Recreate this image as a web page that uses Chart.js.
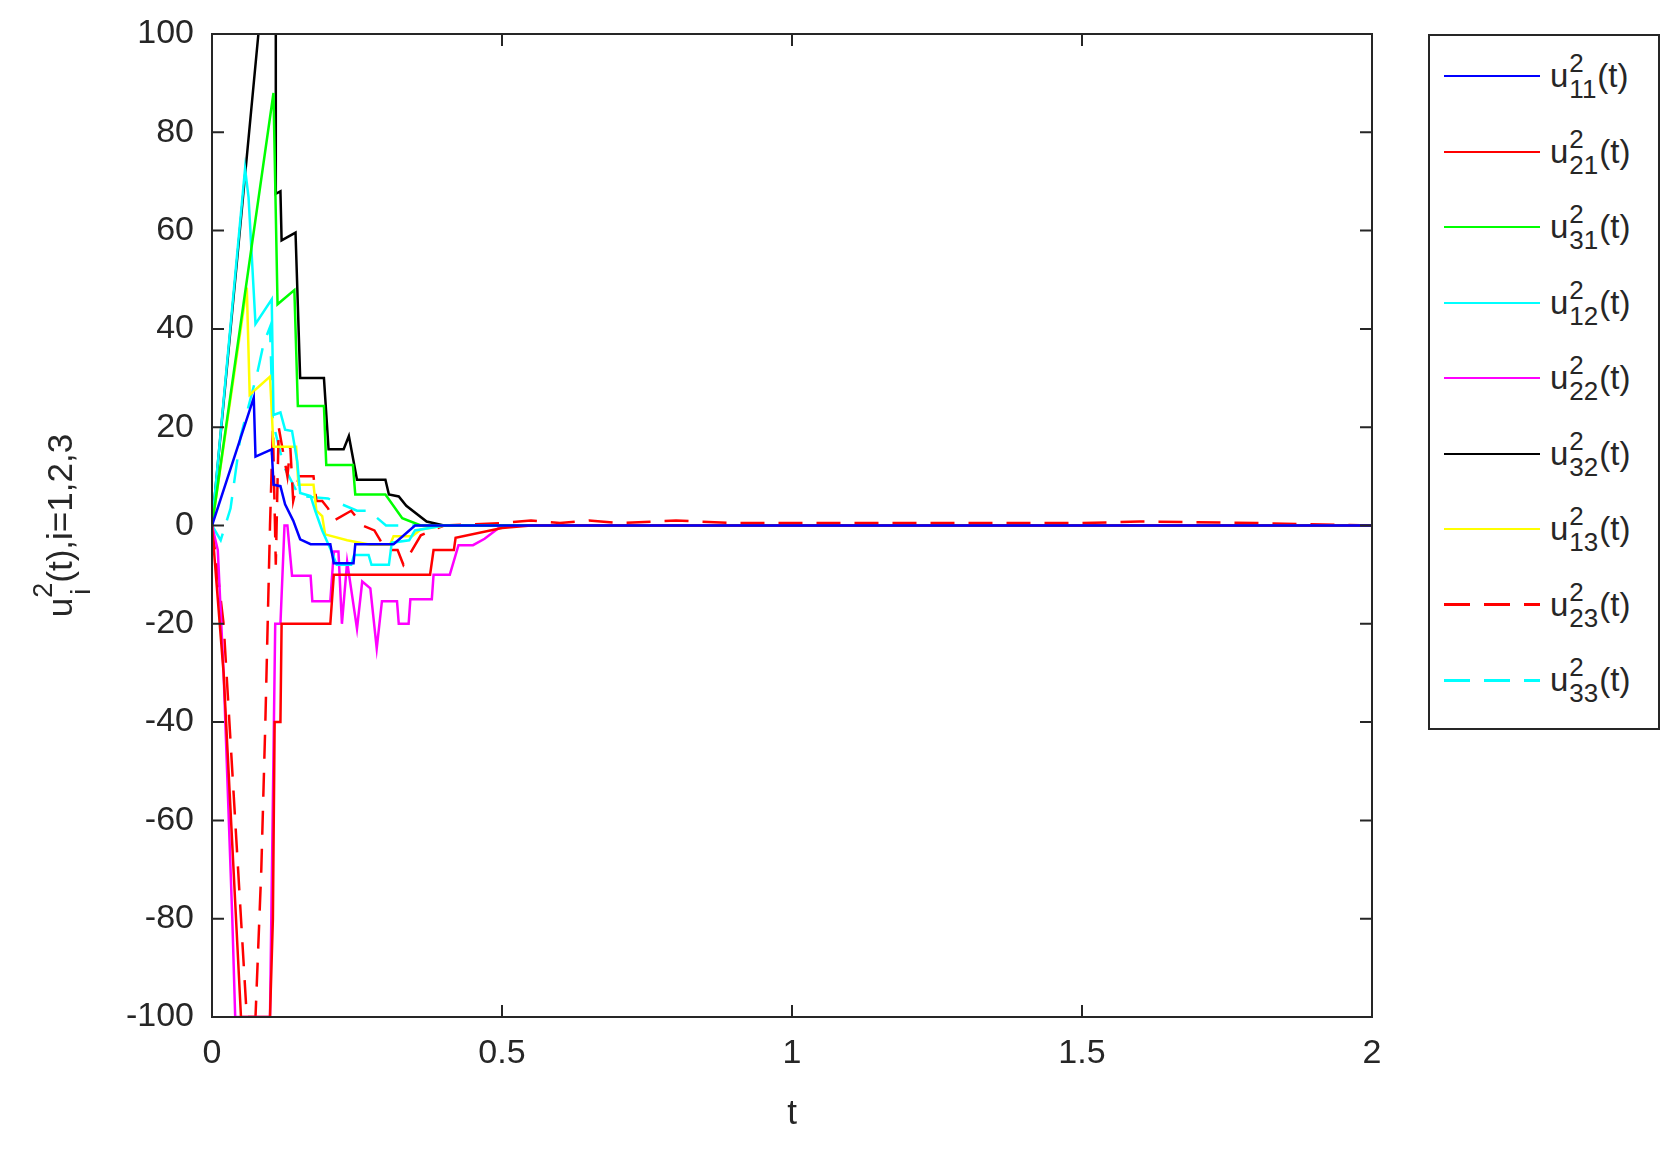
<!DOCTYPE html>
<html>
<head>
<meta charset="utf-8">
<script src="https://cdn.jsdelivr.net/npm/chart.js@4"></script>
<style>
  body { margin: 0; background: #fff; }
  #wrap { position: relative; width: 1680px; height: 1157px; }
  #legend {
    position: absolute; left: 1428px; top: 34px; width: 232px; height: 696px;
    border: 2px solid #262626; box-sizing: border-box; background: #fff;
    font-family: Arial, "Liberation Sans", sans-serif; font-size: 33px; color: #262626;
  }
  .item { position: absolute; left: 14px; height: 64px; display: flex; align-items: center; }
  .swatch { width: 96px; height: 0; margin-right: 10px; }
  .lbl { display: inline-flex; align-items: center; }
  .ss { display: inline-flex; flex-direction: column; line-height: 26px; font-size: 26px; margin: 0 1px; }
</style>
</head>
<body>
<div id="wrap">
  <canvas id="chart" width="1680" height="1157"></canvas>
  <div id="legend"></div>
</div>
<script>
// time / value pairs
const tU11 = [0, 0.072, 0.075, 0.103, 0.106, 0.118, 0.126, 0.14, 0.152, 0.17, 0.204, 0.21, 0.244, 0.247, 0.313, 0.35, 2];
const vU11 = [0, 26, 14, 15.5, 8.3, 8, 4.3, 1, -2.8, -3.8, -3.8, -7.7, -7.7, -3.8, -3.8, 0, 0];

const tU21 = [0, 0.02, 0.05, 0.1, 0.105, 0.108, 0.118, 0.12, 0.204, 0.21, 0.376, 0.382, 0.417, 0.42, 0.5, 0.55, 2];
const vU21 = [0, -30, -100, -100, -80, -40, -40, -20, -20, -10, -10, -5, -5, -2.5, -0.5, 0, 0];

const tU31 = [0, 0.106, 0.113, 0.142, 0.148, 0.193, 0.197, 0.243, 0.247, 0.299, 0.328, 0.36, 2];
const vU31 = [0, 88, 45, 47.9, 24.3, 24.3, 12.3, 12.3, 6.3, 6.3, 1.5, 0, 0];

const tU12 = [0, 0.057, 0.063, 0.075, 0.103, 0.106, 0.118, 0.126, 0.138, 0.147, 0.152, 0.17, 0.178, 0.19, 0.205, 0.215, 0.24, 0.245, 0.27, 0.275, 0.305, 0.31, 0.34, 0.35, 0.4, 2];
const vU12 = [0, 72.6, 66.8, 41, 46, 22.5, 23, 19.5, 19.2, 13, 6.6, 6, 3, -1, -5, -8, -8, -6, -6, -8, -8, -3.5, -3, -1, 0, 0];

const tU22 = [0, 0.01, 0.02, 0.035, 0.04, 0.1, 0.109, 0.118, 0.125, 0.13, 0.138, 0.17, 0.173, 0.204, 0.21, 0.218, 0.224, 0.233, 0.25, 0.259, 0.273, 0.284, 0.293, 0.319, 0.322, 0.339, 0.342, 0.379, 0.382, 0.41, 0.425, 0.45, 0.47, 0.5, 2];
const vU22 = [0, -5, -30, -80, -100, -100, -20, -20, 0, 0, -10.2, -10.2, -15.4, -15.4, -5.3, -5.3, -20, -7.4, -21, -11.4, -12.8, -25, -15.4, -15.4, -20, -20, -15, -15, -10, -10, -4, -4, -2.7, 0, 0];

const tU32 = [0, 0.08, 0.11, 0.11, 0.118, 0.12, 0.144, 0.152, 0.193, 0.201, 0.227, 0.236, 0.25, 0.299, 0.305, 0.322, 0.335, 0.37, 0.4, 2];
const vU32 = [0, 100, 137, 67.5, 68, 58, 59.6, 30, 30, 15.5, 15.5, 18.2, 9.3, 9.3, 6.3, 5.9, 4, 0.8, 0, 0];

const tU13 = [0, 0.06, 0.065, 0.1, 0.106, 0.145, 0.149, 0.175, 0.18, 0.19, 0.195, 0.233, 0.273, 0.307, 0.313, 0.345, 0.36, 0.4, 2];
const vU13 = [0, 48.4, 26.6, 30.3, 16, 16, 8.3, 8.3, 3, 1.9, -1.8, -3, -3.9, -3.9, -2.2, -2.2, -0.8, 0, 0];

const tU23 = [0, 0.02, 0.06, 0.075, 0.085, 0.092, 0.1, 0.105, 0.11, 0.115, 0.13, 0.135, 0.14, 0.15, 0.175, 0.18, 0.19, 0.2, 0.21, 0.24, 0.26, 0.28, 0.3, 0.32, 0.33, 0.36, 0.4, 0.5, 0.55, 0.6, 0.65, 0.7, 0.8, 0.9, 1.3, 1.5, 1.6, 1.8, 2];
const vU23 = [0, -20, -100, -100, -70, -40, 0, 20, -8, 20, 10, 16, 5, 10, 10, 5, 5, 3.5, 1, 3, 0, -1, -5, -5, -8, -2, 0, 0.5, 1, 0.5, 1, 0.5, 1, 0.5, 0.5, 0.5, 0.8, 0.5, 0];

const tU33 = [0, 0.015, 0.032, 0.049, 0.078, 0.089, 0.1, 0.105, 0.124, 0.15, 0.2, 0.25, 0.27, 0.3, 2];
const vU33 = [0, -3, 3.5, 18, 31, 37, 40.4, 21, 12, 6, 5.5, 3, 3, 0, 0];

const seriesNames = ['11', '21', '31', '12', '22', '32', '13', '23', '33'];
const seriesColors = ['#0000ff', '#ff0000', '#00ff00', '#00ffff', '#ff00ff', '#000000', '#ffff00', '#ff0000', '#00ffff'];
const seriesDashed = [false, false, false, false, false, false, false, true, true];
const seriesT = [tU11, tU21, tU31, tU12, tU22, tU32, tU13, tU23, tU33];
const seriesV = [vU11, vU21, vU31, vU12, vU22, vU32, vU13, vU23, vU33];

const xTicks = [0, 0.5, 1, 1.5, 2];
const yTicks = [-100, -80, -60, -40, -20, 0, 20, 40, 60, 80, 100];

const axisColor = '#262626';
const font = 'Arial, "Liberation Sans", sans-serif';

const datasets = seriesNames.map((n, i) => ({
  label: 'u' + n,
  data: seriesT[i].map((t, k) => ({ x: t, y: seriesV[i][k] })),
  borderColor: seriesColors[i],
  borderWidth: 2.5,
  borderDash: seriesDashed[i] ? [24, 14] : [],
  pointRadius: 0,
  tension: 0,
  fill: false
}));

// inward ticks, box and y title (sub/superscripts)
const framePlugin = {
  id: 'frame',
  afterDraw(c) {
    const { ctx, chartArea: a, scales } = c;
    ctx.save();
    ctx.strokeStyle = axisColor;
    ctx.lineWidth = 2;
    ctx.strokeRect(a.left, a.top, a.right - a.left, a.bottom - a.top);
    const L = 12;
    ctx.beginPath();
    xTicks.forEach(v => {
      const x = scales.x.getPixelForValue(v);
      ctx.moveTo(x, a.bottom); ctx.lineTo(x, a.bottom - L);
      ctx.moveTo(x, a.top); ctx.lineTo(x, a.top + L);
    });
    yTicks.forEach(v => {
      const y = scales.y.getPixelForValue(v);
      ctx.moveTo(a.left, y); ctx.lineTo(a.left + L, y);
      ctx.moveTo(a.right, y); ctx.lineTo(a.right - L, y);
    });
    ctx.stroke();

    // y title: u_i^2(t),i=1,2,3
    ctx.fillStyle = axisColor;
    ctx.translate(60, (a.top + a.bottom) / 2);
    ctx.rotate(-Math.PI / 2);
    ctx.textBaseline = 'alphabetic';
    const big = '35px ' + font, small = '27px ' + font;
    ctx.font = big;
    const w1 = ctx.measureText('u').width;
    ctx.font = small;
    const wS = ctx.measureText('2').width;
    ctx.font = big;
    const rest = '(t),i=1,2,3';
    const w2 = ctx.measureText(rest).width;
    const x = -(w1 + wS + w2) / 2;
    ctx.fillText('u', x, 12);
    ctx.font = small;
    ctx.fillText('2', x + w1, -8);
    ctx.fillText('i', x + w1 + 3, 30);
    ctx.font = big;
    ctx.fillText(rest, x + w1 + wS, 12);
    ctx.restore();
  }
};

new Chart(document.getElementById('chart'), {
  type: 'line',
  data: { datasets },
  options: {
    responsive: false,
    animation: false,
    layout: { padding: { top: 34, right: 308, bottom: 18, left: 0 } },
    plugins: { legend: { display: false }, tooltip: { enabled: false } },
    scales: {
      x: {
        type: 'linear', min: 0, max: 2,
        afterBuildTicks: s => { s.ticks = xTicks.map(v => ({ value: v })); },
        afterFit: s => { s.height = 122; },
        grid: { display: false },
        border: { display: false },
        ticks: { color: axisColor, font: { size: 34, family: font }, padding: 8, maxRotation: 0,
                 callback: v => String(v) },
        title: { display: true, text: 't', color: axisColor, font: { size: 35, family: font }, padding: { top: 0 } }
      },
      y: {
        min: -100, max: 100,
        afterBuildTicks: s => { s.ticks = yTicks.map(v => ({ value: v })); },
        afterFit: s => { s.width = 212; },
        grid: { display: false },
        border: { display: false },
        ticks: { color: axisColor, font: { size: 34, family: font }, padding: 10 }
      }
    }
  },
  plugins: [framePlugin]
});

// legend with sub/superscripts as real text
const legend = document.getElementById('legend');
seriesNames.forEach((n, i) => {
  const item = document.createElement('div');
  item.className = 'item';
  item.style.top = (8 + i * 75.5) + 'px';
  const sw = document.createElement('div');
  sw.className = 'swatch';
  sw.style.borderTop = '2.5px solid ' + seriesColors[i];
  if (seriesDashed[i]) {
    sw.style.borderTop = 'none';
    sw.style.height = '3px';
    sw.style.background = 'repeating-linear-gradient(90deg,' + seriesColors[i] + ' 0 26px, transparent 26px 40px)';
  }
  item.appendChild(sw);
  const lbl = document.createElement('span');
  lbl.className = 'lbl';
  lbl.innerHTML = 'u<span class="ss"><span>2</span><span>' + n + '</span></span>(t)';
  item.appendChild(lbl);
  legend.appendChild(item);
});
</script>
</body>
</html>
